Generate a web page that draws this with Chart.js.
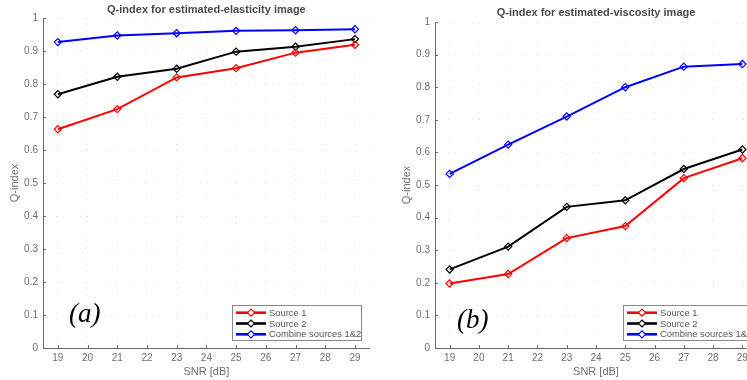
<!DOCTYPE html>
<html>
<head>
<meta charset="utf-8">
<script src="https://cdn.jsdelivr.net/npm/chart.js@4/dist/chart.umd.min.js"></script>
<style>
  html, body { margin: 0; padding: 0; background: #fff; overflow: hidden; width: 747px; height: 380px; }
  .wrap { position: absolute; top: 0; height: 380px; }
</style>
</head>
<body>
<div class="wrap" style="left:0;width:375px"><canvas id="elastChart"></canvas></div>
<div class="wrap" style="left:375px;width:390px"><canvas id="viscChart"></canvas></div>
<script>
const snr = [19, 21, 23, 25, 27, 29];
const xTicks = [19, 20, 21, 22, 23, 24, 25, 26, 27, 28, 29];
const yTicks = [0, 0.1, 0.2, 0.3, 0.4, 0.5, 0.6, 0.7, 0.8, 0.9, 1];
const seriesNames = ["Source 1", "Source 2", "Combine sources 1&2"];
const seriesColors = ["#ff0000", "#000000", "#0000ff"];

const elastSource1 = [0.663, 0.724, 0.820, 0.848, 0.895, 0.919];
const elastSource2 = [0.769, 0.822, 0.846, 0.898, 0.913, 0.936];
const elastCombined = [0.927, 0.947, 0.954, 0.961, 0.963, 0.966];

const viscSource1 = [0.198, 0.227, 0.337, 0.374, 0.521, 0.582];
const viscSource2 = [0.241, 0.311, 0.433, 0.453, 0.549, 0.609];
const viscCombined = [0.534, 0.624, 0.710, 0.800, 0.863, 0.871];

const FONT = "'Liberation Sans', Arial, sans-serif";
const AXIS_COLOR = "#6a6a6a";
const TEXT_COLOR = "#6e6e6e";

// titles and the (a)/(b) labels
const panelText = {
    id: "panelText",
    afterDraw(chart, args, opts) {
        const { ctx, chartArea } = chart;
        ctx.save();
        ctx.fillStyle = "#4a4a4a";
        ctx.font = "bold 11px " + FONT;
        ctx.textAlign = "center";
        ctx.textBaseline = "middle";
        ctx.fillText(opts.title, (chartArea.left + chartArea.right) / 2, chartArea.top - opts.titleGap);

        ctx.fillStyle = "#000";
        ctx.font = "italic 27px 'Liberation Serif', 'DejaVu Serif', serif";
        ctx.textAlign = "left";
        ctx.fillText(opts.label, chartArea.left + opts.labelDx, chartArea.bottom - opts.labelDy);
        ctx.restore();
    },
};

// small inward tick marks like matlab
const innerTicks = {
    id: "innerTicks",
    afterDraw(chart) {
        const { ctx, chartArea, scales } = chart;
        ctx.save();
        ctx.strokeStyle = AXIS_COLOR;
        ctx.lineWidth = 1;
        ctx.beginPath();
        xTicks.forEach((v) => {
            const px = Math.round(scales.x.getPixelForValue(v)) + 0.5;
            ctx.moveTo(px, chartArea.bottom);
            ctx.lineTo(px, chartArea.bottom - 3);
        });
        yTicks.forEach((v) => {
            const py = Math.round(scales.y.getPixelForValue(v)) + 0.5;
            ctx.moveTo(chartArea.left, py);
            ctx.lineTo(chartArea.left + 3, py);
        });
        ctx.stroke();
        ctx.restore();
    },
};

function diamond(ctx, x, y, r) {
    ctx.beginPath();
    ctx.moveTo(x, y - r);
    ctx.lineTo(x + r, y);
    ctx.lineTo(x, y + r);
    ctx.lineTo(x - r, y);
    ctx.closePath();
}

// legend box inside the plot, lower right
const boxLegend = {
    id: "boxLegend",
    afterDraw(chart, args, opts) {
        const { ctx, chartArea } = chart;
        const w = 129, h = 35, rowH = 10.8;
        const x = Math.round(chartArea.right - opts.inset - w);
        const y = Math.round(chartArea.bottom - 8 - h);
        ctx.save();
        ctx.fillStyle = "#fff";
        ctx.fillRect(x, y, w, h);
        ctx.strokeStyle = "#8a8a8a";
        ctx.lineWidth = 1;
        ctx.strokeRect(x + 0.5, y + 0.5, w, h);
        ctx.font = "9.4px " + FONT;
        ctx.textBaseline = "middle";
        chart.data.datasets.forEach((ds, i) => {
            const cy = y + 7.7 + i * rowH;
            ctx.strokeStyle = ds.borderColor;
            ctx.lineWidth = 2.6;
            ctx.beginPath();
            ctx.moveTo(x + 4, cy);
            ctx.lineTo(x + 34, cy);
            ctx.stroke();
            ctx.lineWidth = 1.2;
            diamond(ctx, x + 19, cy, 3.5);
            ctx.fillStyle = "#fff";
            ctx.fill();
            ctx.stroke();
            ctx.fillStyle = "#555";
            ctx.fillText(ds.label, x + 37, cy + 0.5);
        });
        ctx.restore();
    },
};

function makeDatasets(series) {
    return series.map((values, i) => ({
        label: seriesNames[i],
        data: values.map((v, j) => ({ x: snr[j], y: v })),
        borderColor: seriesColors[i],
        backgroundColor: "rgba(0,0,0,0)",
        borderWidth: 2,
        pointStyle: "rectRot",
        pointRadius: 3.6,
        pointBorderWidth: 1.2,
        pointBackgroundColor: "rgba(0,0,0,0)",
        tension: 0,
    }));
}

function makeChart(id, series, cfg) {
    const canvas = document.getElementById(id);
    if (!canvas) return;

    new Chart(canvas, {
        type: "line",
        data: { datasets: makeDatasets(series) },
        plugins: [panelText, innerTicks, boxLegend],
        options: {
            responsive: true,
            maintainAspectRatio: false,
            animation: false,
            layout: { padding: { top: cfg.top, right: cfg.right, left: 0, bottom: 0 } },
            plugins: {
                legend: { display: false },
                tooltip: { enabled: false },
                panelText: { title: cfg.title, titleGap: cfg.titleGap, label: cfg.label, labelDx: cfg.labelDx, labelDy: cfg.labelDy },
                boxLegend: { inset: cfg.legendInset },
            },
            scales: {
                x: {
                    type: "linear",
                    min: 18.5,
                    max: 29.5,
                    afterBuildTicks: (scale) => { scale.ticks = xTicks.map((v) => ({ value: v })); },
                    afterFit: (scale) => { scale.height = 32; },
                    grid: { color: "rgba(0,0,0,0.09)", drawTicks: false, lineWidth: 1 },
                    border: { color: AXIS_COLOR, width: 1, dash: [1, 5] },
                    ticks: { color: TEXT_COLOR, font: { family: FONT, size: 10 }, padding: 4, maxRotation: 0 },
                    title: { display: true, text: "SNR [dB]", color: TEXT_COLOR, font: { family: FONT, size: 11 }, padding: { top: 0, bottom: 1 } },
                },
                y: {
                    min: 0,
                    max: 1,
                    afterBuildTicks: (scale) => { scale.ticks = yTicks.map((v) => ({ value: v })); },
                    afterFit: (scale) => { scale.width = cfg.yWidth; },
                    grid: { color: "rgba(0,0,0,0.09)", drawTicks: false, lineWidth: 1 },
                    border: { color: AXIS_COLOR, width: 1, dash: [1, 5] },
                    ticks: {
                        color: TEXT_COLOR,
                        font: { family: FONT, size: 10 },
                        padding: 5,
                        callback: (v) => String(Math.round(v * 10) / 10),
                    },
                    title: { display: true, text: "Q-index", color: TEXT_COLOR, font: { family: FONT, size: 11 }, padding: { top: cfg.yTitlePad, bottom: 0 } },
                },
            },
        },
    });
}

makeChart("elastChart", [elastSource1, elastSource2, elastCombined], {
    title: "Q-index for estimated-elasticity image",
    label: "(a)",
    top: 18, right: 4, yWidth: 43, yTitlePad: 8,
    titleGap: 8, labelDx: 26, labelDy: 33, legendInset: 9,
});

makeChart("viscChart", [viscSource1, viscSource2, viscCombined], {
    title: "Q-index for estimated-viscosity image",
    label: "(b)",
    top: 22, right: 8, yWidth: 60, yTitlePad: 25,
    titleGap: 9, labelDx: 22, labelDy: 27, legendInset: 5,
});
</script>
</body>
</html>
